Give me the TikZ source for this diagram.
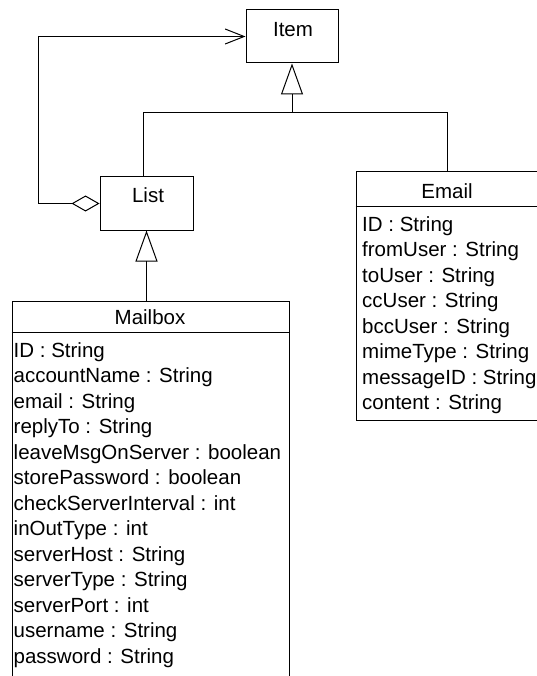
\documentclass[tikz,border=0pt]{standalone}
\usepackage{fontspec}
\setmainfont{Liberation Sans}
\usetikzlibrary{arrows.meta}

\tikzset{
  umlline/.style={line width=1pt, black},
  classbox/.style={draw, umlline, inner sep=0pt, fill=none},
  classname/.style={inner sep=0pt, anchor=base, font=\fontsize{20.5pt}{24pt}\selectfont},
  attr/.style={inner sep=0pt, anchor=base west, font=\fontsize{20.5pt}{24pt}\selectfont},
  generalization/.style={umlline, -{Triangle[open, length=31pt, width=22pt, line width=1pt]}},
  navigation/.style={umlline, {Diamond[open, length=28pt, width=16pt, line width=1pt]}-{Straight Barb[length=19pt, width=15pt, line width=1pt]}},
}

\begin{document}
\begin{tikzpicture}[x=1pt, y=-1pt]
  \clip (0,0) rectangle (537,676);
  \useasboundingbox (0,0) rectangle (537,676);
  \fill[white] (0,0) rectangle (537,676);

  % class boxes
  \node[classbox, minimum width=92pt, minimum height=53pt] (item) at (292,36.5) {};
  \node[classbox, minimum width=93pt, minimum height=53pt] (list) at (146.5,203.5) {};
  \node[classbox, minimum width=183pt, minimum height=248pt] (email) at (447.5,296) {};
  \node[classbox, minimum width=277pt, minimum height=440pt] (mailbox) at (150.5,521) {};

  % compartment separators
  \draw[umlline] (email.north west) ++(0,35) -- ++(183,0);
  \draw[umlline] (mailbox.north west) ++(0,32) -- ++(277,0);

  % class names
  \node[classname] (itemname) at (293,36.7) {Item};
  \node[classname] (listname) at (148,202.7) {List};
  \node[classname] (emailname) at (447,198.5) {Email};
  \node[classname] (mailboxname) at (150,324) {Mailbox};

  % attributes
  \foreach \t [count=\i from 0] in {ID : String, fromUser : String, toUser : String,
      ccUser : String, bccUser : String, mimeType : String, messageID : String,
      content : String}
    \node[attr] (em-\i) at (362,{231+25.5*\i}) {\t};

  \foreach \t [count=\i from 0] in {ID : String, accountName : String, email : String,
      replyTo : String, leaveMsgOnServer : boolean, storePassword : boolean,
      checkServerInterval : int, inOutType : int, serverHost : String,
      serverType : String, serverPort : int, username : String, password : String}
    \node[attr] (mb-\i) at (13.5,{357.3+25.5*\i}) {\t};

  % helper points for the connectors
  \path (item.south) ++(0,49) coordinate (junc);
  \path (item.west) ++(-207,0) coordinate (corner);
  \path (list.north) ++(-3.5,0) coordinate (listtop);

  % generalizations
  \draw[umlline] (listtop) |- (junc) -| (email.north);
  \draw[generalization] (junc) -- (item.south);
  \draw[generalization] (mailbox.north -| list.south) -- (list.south);

  % aggregation from List to Item
  \draw[navigation] (list.west) -| (corner) -- (item.west);
\end{tikzpicture}
\end{document}
